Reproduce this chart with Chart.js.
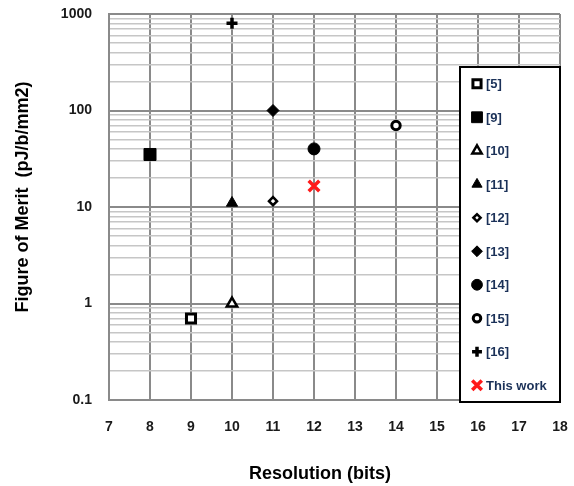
<!DOCTYPE html>
<html>
<head>
<meta charset="utf-8">
<script src="https://cdn.jsdelivr.net/npm/chart.js@4.4.1/dist/chart.umd.min.js"></script>
<style>
  html, body { margin: 0; padding: 0; background: #fff; }
  #wrap { width: 574px; height: 486px; }
</style>
</head>
<body>
<div id="wrap"><canvas id="fomChart" width="574" height="486"></canvas></div>
<script>
// published designs compared with this work
const refLabels = ['[5]', '[9]', '[10]', '[11]', '[12]', '[13]', '[14]', '[15]', '[16]', 'This work'];
const resolutionBits = [9, 8, 10, 10, 11, 11, 12, 14, 10, 12];
const fomValues = [0.7, 35, 1, 11, 11.5, 100, 40, 70, 800, 16.5];

// axis ticks
const xTicks = [7, 8, 9, 10, 11, 12, 13, 14, 15, 16, 17, 18];
const yDecades = [0.1, 1, 10, 100, 1000];

// marker look per entry: [pointStyle, filled, radius, borderWidth, colour]
const markerStyles = [
  ['rect', false, 6.4, 3, '#000'],
  ['rect', true, 8.5, 1, '#000'],
  ['triangle', false, 6, 2.5, '#000'],
  ['triangle', true, 6.5, 1, '#000'],
  ['rectRot', false, 4, 2.5, '#000'],
  ['rectRot', true, 6, 1, '#000'],
  ['circle', true, 6, 1, '#000'],
  ['circle', false, 4.2, 3, '#000'],
  ['cross', false, 5.5, 3.5, '#000'],
  ['crossRot', false, 7.5, 3.5, '#ff1a1a']
];

const datasets = refLabels.map((label, i) => {
  const [style, filled, radius, bw, color] = markerStyles[i];
  return {
    label: label,
    data: [{ x: resolutionBits[i], y: fomValues[i] }],
    pointStyle: style,
    pointRadius: radius,
    pointHoverRadius: radius,
    pointBorderWidth: bw,
    pointBorderColor: color,
    pointBackgroundColor: filled ? color : '#fff',
    showLine: false
  };
});

const GRID_DARK = '#8a8a8a';
const GRID_LIGHT = '#c6c6c6';
const FONT_FAMILY = '"Liberation Sans", Arial, sans-serif';

// axis titles, placed a little left/up of the plot centre
const axisTitles = {
  id: 'axisTitles',
  afterDraw(chart) {
    const ctx = chart.ctx;
    ctx.save();
    ctx.fillStyle = '#000';
    ctx.font = 'bold 18px ' + FONT_FAMILY;
    ctx.textAlign = 'center';
    ctx.textBaseline = 'middle';
    ctx.fillText('Resolution (bits)', 320, 474);
    ctx.translate(23, 197);
    ctx.rotate(-Math.PI / 2);
    ctx.fillText('Figure of Merit  (pJ/b/mm2)', 0, 0);
    ctx.restore();
  }
};

// boxed legend sitting inside the plot on the right
const boxLegend = {
  id: 'boxLegend',
  afterDraw(chart) {
    const ctx = chart.ctx;
    const area = chart.chartArea;
    const left = 460, top = 67, right = area.right, bottom = 402;
    ctx.save();
    ctx.fillStyle = '#fff';
    ctx.fillRect(left, top, right - left, bottom - top);
    ctx.strokeStyle = '#000';
    ctx.lineWidth = 2;
    ctx.strokeRect(left, top, right - left, bottom - top);
    const rowGap = (bottom - top) / chart.data.datasets.length;
    chart.data.datasets.forEach((ds, i) => {
      const y = top + rowGap * (i + 0.5);
      const opts = {
        pointStyle: ds.pointStyle,
        radius: ds.pointRadius * 0.9,
        rotation: 0,
        borderWidth: ds.pointBorderWidth
      };
      ctx.fillStyle = ds.pointBackgroundColor;
      ctx.strokeStyle = ds.pointBorderColor;
      ctx.lineWidth = ds.pointBorderWidth;
      Chart.helpers.drawPoint(ctx, opts, 477, y);
      ctx.fillStyle = '#1b3158';
      ctx.font = 'bold 13px ' + FONT_FAMILY;
      ctx.textAlign = 'left';
      ctx.textBaseline = 'middle';
      ctx.fillText(ds.label, 486, y + 1);
    });
    ctx.restore();
  }
};

new Chart(document.getElementById('fomChart'), {
  type: 'scatter',
  data: { datasets },
  plugins: [boxLegend, axisTitles],
  options: {
    responsive: false,
    animation: false,
    events: [],
    layout: { padding: { top: 14, right: 14, left: 0, bottom: 0 } },
    plugins: {
      legend: { display: false },
      tooltip: { enabled: false }
    },
    scales: {
      x: {
        type: 'linear',
        min: xTicks[0],
        max: xTicks[xTicks.length - 1],
        afterBuildTicks: (scale) => {
          scale.ticks = xTicks.map(v => ({ value: v }));
        },
        afterFit: (scale) => { scale.height = 86; },
        // invisible tick marks keep the labels clear of the axis
        grid: { color: GRID_DARK, lineWidth: 2, drawTicks: true, tickLength: 19, tickColor: 'rgba(0,0,0,0)' },
        border: { display: true, color: GRID_DARK, width: 2 },
        ticks: {
          padding: 0,
          color: '#1a1a1a',
          font: { family: FONT_FAMILY, size: 14, weight: 'bold' }
        }
      },
      y: {
        type: 'logarithmic',
        min: yDecades[0],
        max: yDecades[yDecades.length - 1],
        afterBuildTicks: (scale) => {
          // decades plus the 2..9 minor steps inside each one
          const ticks = [];
          yDecades.forEach((d, i) => {
            ticks.push({ value: d, major: true });
            if (i < yDecades.length - 1) {
              for (let k = 2; k <= 9; k++) ticks.push({ value: +(d * k).toPrecision(3), major: false });
            }
          });
          scale.ticks = ticks;
        },
        afterFit: (scale) => { scale.width = 109; },
        grid: {
          drawTicks: true,
          tickLength: 17,
          tickColor: 'rgba(0,0,0,0)',
          color: (c) => (c.tick && c.tick.major ? GRID_DARK : GRID_LIGHT),
          lineWidth: (c) => (c.tick && c.tick.major ? 2 : 1.5)
        },
        border: { display: true, color: GRID_DARK, width: 2 },
        ticks: {
          autoSkip: false,
          padding: 0,
          color: '#1a1a1a',
          font: { family: FONT_FAMILY, size: 14, weight: 'bold' },
          callback: (v) => (yDecades.includes(v) ? String(v) : '')
        }
      }
    }
  }
});
</script>
</body>
</html>
